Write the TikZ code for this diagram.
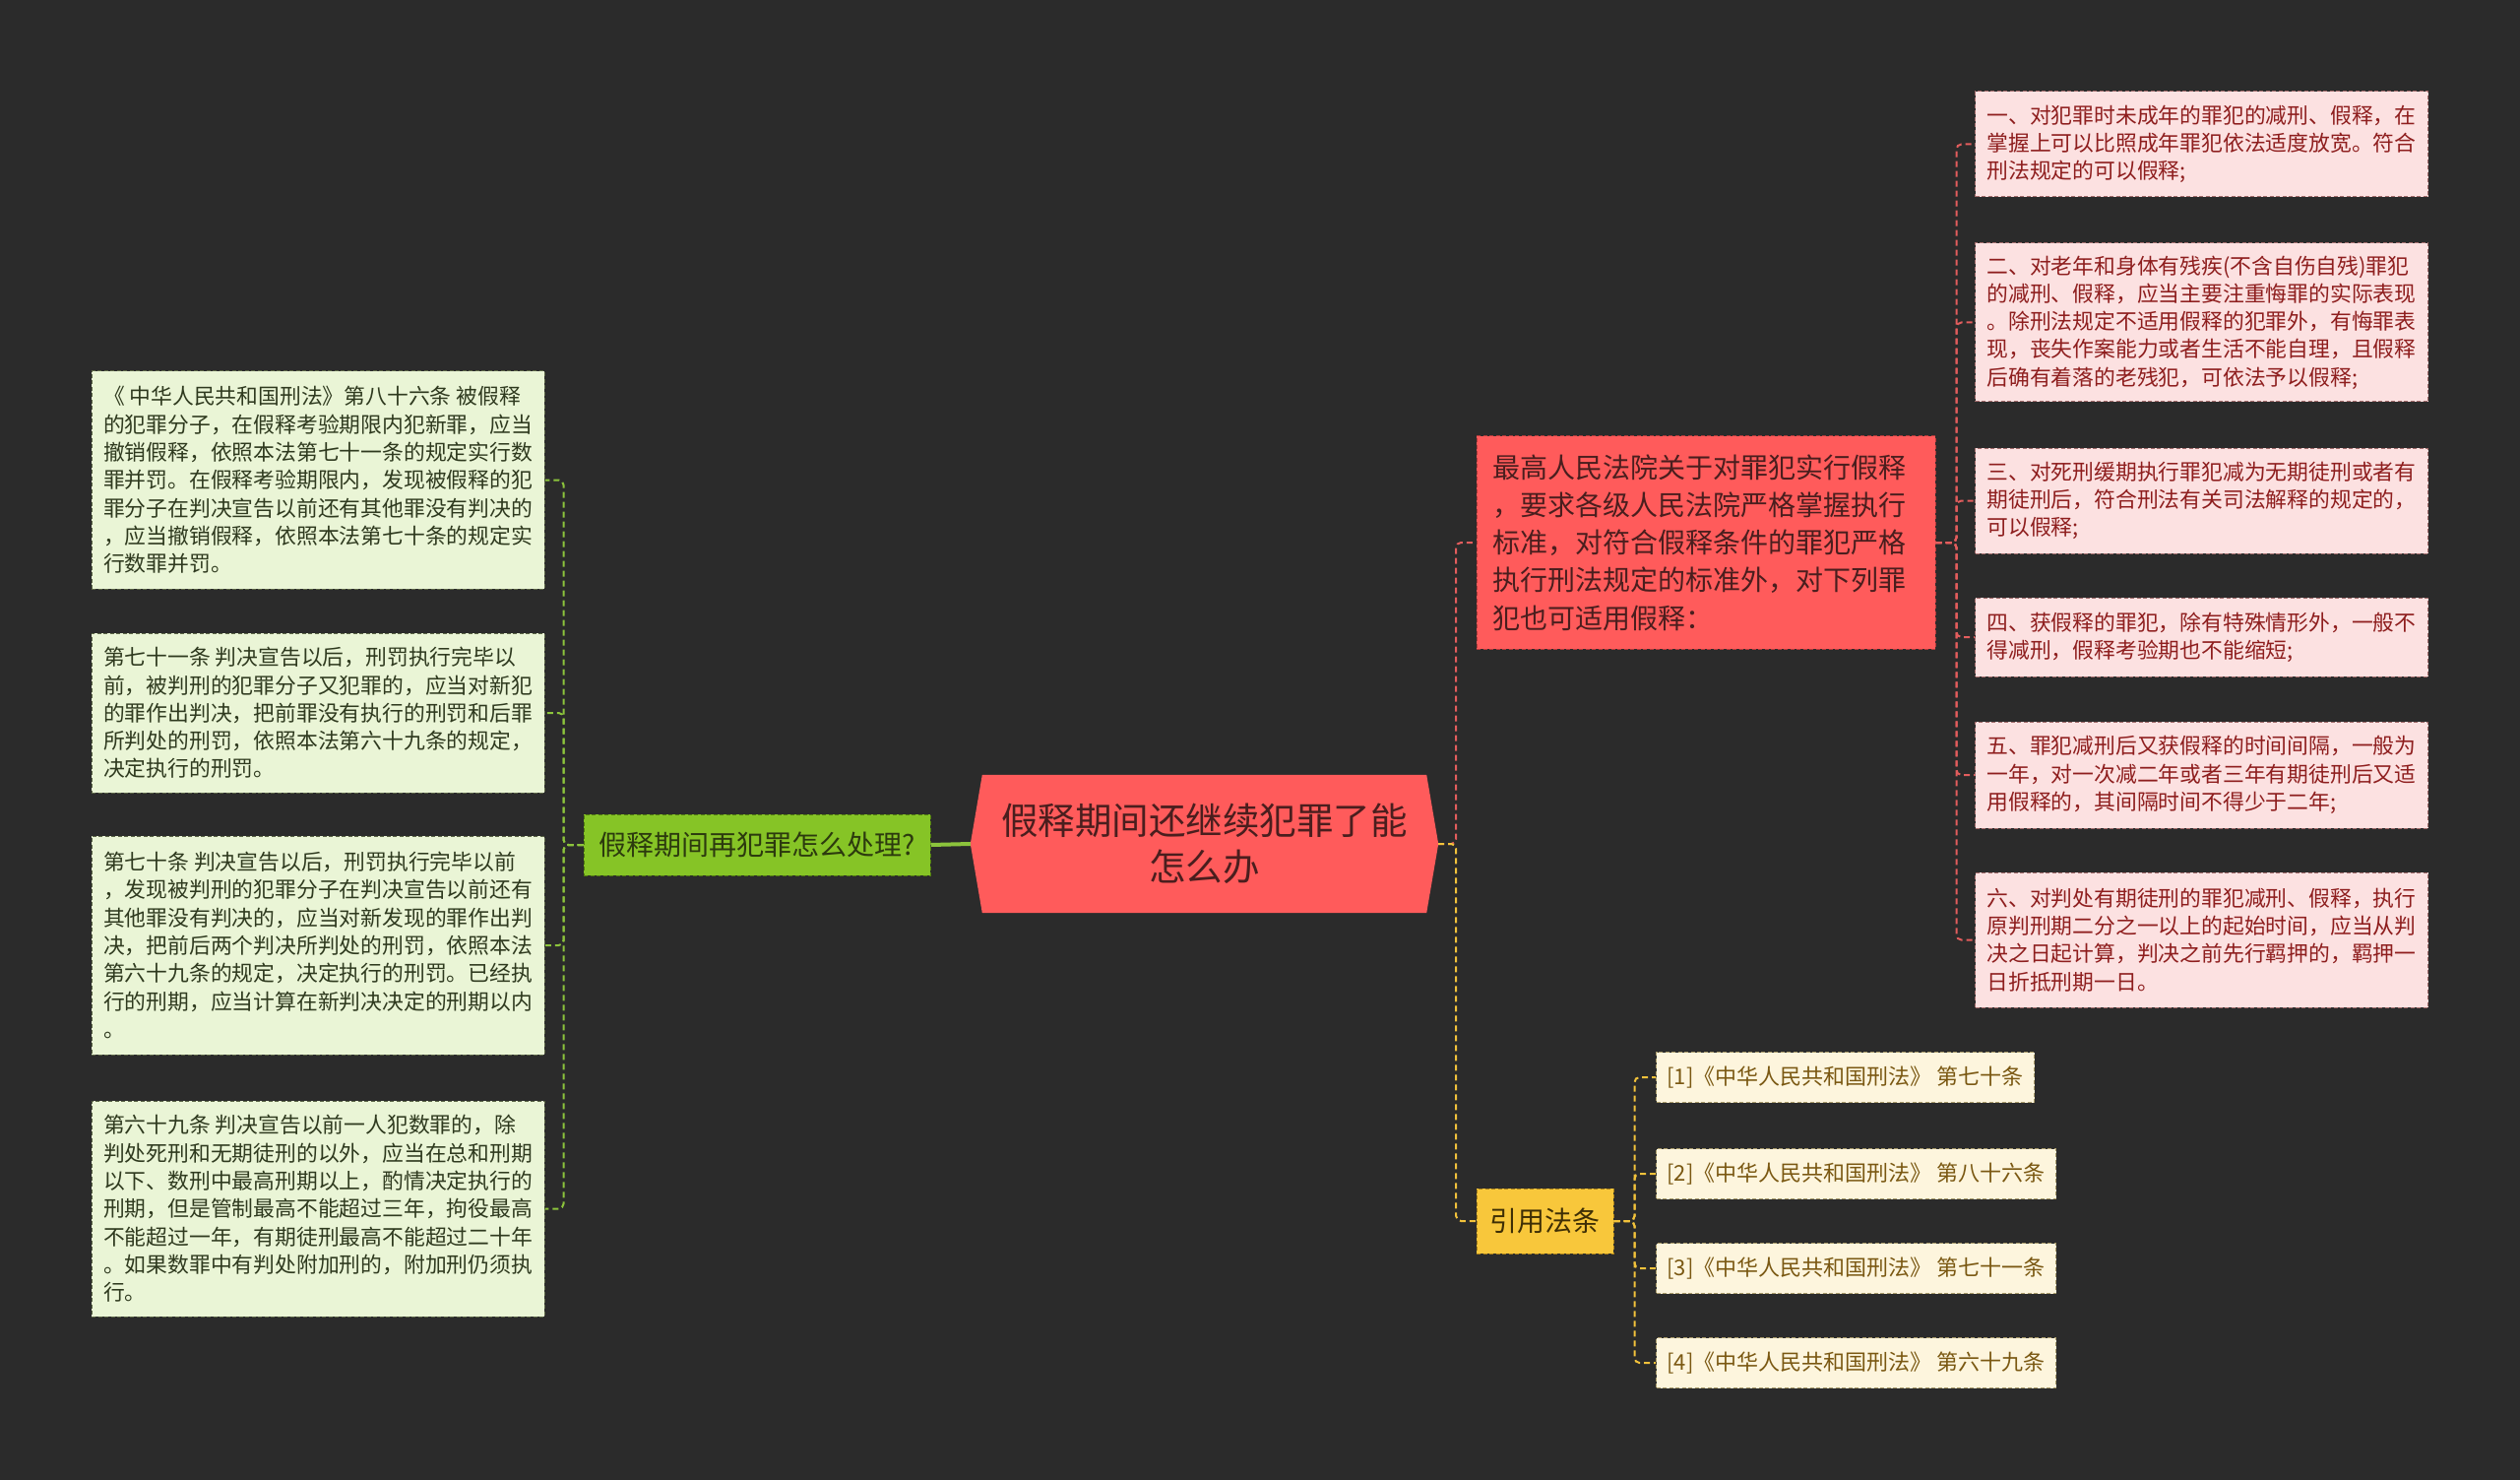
\documentclass[tikz,border=0pt]{standalone}
\usepackage{fontspec}
\newfontfamily\cjk{Noto Sans CJK SC}
\usetikzlibrary{backgrounds}
\definecolor{bgc}{HTML}{2B2B2B}
\definecolor{lfill}{HTML}{EAF5D6}
\definecolor{lborder}{HTML}{5A6445}
\definecolor{ltext}{HTML}{2F3A1F}
\definecolor{gfill}{HTML}{86C426}
\definecolor{gborder}{HTML}{4F7A10}
\definecolor{gtext}{HTML}{2C3A0E}
\definecolor{ctrfill}{HTML}{FF5B5B}
\definecolor{ctrtext}{HTML}{4A1E1E}
\definecolor{rfill}{HTML}{FF5B5B}
\definecolor{rborder}{HTML}{B03A3A}
\definecolor{rtext}{HTML}{4A1E1E}
\definecolor{pfill}{HTML}{FCE1E1}
\definecolor{pborder}{HTML}{A06A6A}
\definecolor{ptext}{HTML}{8E1E1E}
\definecolor{yfill}{HTML}{F8C73B}
\definecolor{yborder}{HTML}{A8801A}
\definecolor{ytext}{HTML}{3F2F05}
\definecolor{citefill}{HTML}{FDF5DD}
\definecolor{citeborder}{HTML}{A89A6A}
\definecolor{citetext}{HTML}{7A5812}
\definecolor{glc}{HTML}{8CC43C}
\definecolor{rlc}{HTML}{E35D5D}
\definecolor{ylc}{HTML}{F2C23B}
\begin{document}
\begin{tikzpicture}[x=1pt,y=-1pt,
  boxbase/.style={rectangle, dash pattern=on 4pt off 2.5pt, line width=1pt, align=left, inner xsep=12pt, inner ysep=6pt},
  lbox/.style={boxbase, fill=lfill, draw=lborder, text=ltext, minimum width=460pt, font=\cjk\fontsize{21.8}{28.3}\selectfont},
  pbox/.style={boxbase, fill=pfill, draw=pborder, text=ptext, minimum width=459pt, font=\cjk\fontsize{21.8}{28.3}\selectfont},
  citebox/.style={boxbase, fill=citefill, draw=citeborder, text=citetext, anchor=west, minimum height=51pt, inner xsep=11pt, font=\cjk\fontsize{22}{26}\selectfont},
  gnode/.style={boxbase, fill=gfill, draw=gborder, text=gtext, minimum width=352pt, minimum height=62pt, inner xsep=4pt, font=\cjk\fontsize{28}{34}\selectfont},
  rnode/.style={boxbase, fill=rfill, draw=rborder, text=rtext, text width=434pt, inner xsep=16pt, minimum height=216pt, font=\cjk\fontsize{28}{38.3}\selectfont},
  ynode/.style={boxbase, fill=yfill, draw=yborder, text=ytext, minimum width=139pt, minimum height=66pt, inner xsep=4pt, font=\cjk\fontsize{28}{34}\selectfont},
  cnode/.style={rectangle, minimum width=475pt, minimum height=140pt, align=center, text=ctrtext, inner sep=0pt, font=\cjk\fontsize{37.5}{47}\selectfont},
  gline/.style={draw=glc, line width=2pt, dash pattern=on 6pt off 4pt, rounded corners=5pt},
  rline/.style={draw=rlc, line width=2pt, dash pattern=on 6pt off 4pt, rounded corners=5pt},
  yline/.style={draw=ylc, line width=2pt, dash pattern=on 6pt off 4pt, rounded corners=5pt}
]
\useasboundingbox (0,0) rectangle (2560,1503);

% centre
\node[cnode] (c) at (1223.5,857) {假释期间还继续犯罪了能\\怎么办};

% left branch
\node[gnode] (g) at (769,858) {假释期间再犯罪怎么处理?};
\node[lbox, minimum height=221pt] (l1) at (323,487.5) {《 中华人民共和国刑法》第八十六条 被假释\\的犯罪分子，在假释考验期限内犯新罪，应当\\撤销假释，依照本法第七十一条的规定实行数\\罪并罚。在假释考验期限内，发现被假释的犯\\罪分子在判决宣告以前还有其他罪没有判决的\\，应当撤销假释，依照本法第七十条的规定实\\行数罪并罚。};
\node[lbox, minimum height=162pt] (l2) at (323,724) {第七十一条 判决宣告以后，刑罚执行完毕以\\前，被判刑的犯罪分子又犯罪的，应当对新犯\\的罪作出判决，把前罪没有执行的刑罚和后罪\\所判处的刑罚，依照本法第六十九条的规定，\\决定执行的刑罚。};
\node[lbox, minimum height=222pt] (l3) at (323,960) {第七十条 判决宣告以后，刑罚执行完毕以前\\，发现被判刑的犯罪分子在判决宣告以前还有\\其他罪没有判决的，应当对新发现的罪作出判\\决，把前后两个判决所判处的刑罚，依照本法\\第六十九条的规定，决定执行的刑罚。已经执\\行的刑期，应当计算在新判决决定的刑期以内\\。};
\node[lbox, minimum height=219pt] (l4) at (323,1227.5) {第六十九条 判决宣告以前一人犯数罪的，除\\判处死刑和无期徒刑的以外，应当在总和刑期\\以下、数刑中最高刑期以上，酌情决定执行的\\刑期，但是管制最高不能超过三年，拘役最高\\不能超过一年，有期徒刑最高不能超过二十年\\。如果数罪中有判处附加刑的，附加刑仍须执\\行。};

% right upper branch
\node[rnode] (r) at (1733,551) {最高人民法院关于对罪犯实行假释\\，要求各级人民法院严格掌握执行\\标准，对符合假释条件的罪犯严格\\执行刑法规定的标准外，对下列罪\\犯也可适用假释：};
\node[pbox, minimum height=107pt] (p1) at (2236.5,146.5) {一、对犯罪时未成年的罪犯的减刑、假释，在\\掌握上可以比照成年罪犯依法适度放宽。符合\\刑法规定的可以假释;};
\node[pbox, minimum height=161pt] (p2) at (2236.5,327.5) {二、对老年和身体有残疾(不含自伤自残)罪犯\\的减刑、假释，应当主要注重悔罪的实际表现\\。除刑法规定不适用假释的犯罪外，有悔罪表\\现，丧失作案能力或者生活不能自理，且假释\\后确有着落的老残犯，可依法予以假释;};
\node[pbox, minimum height=107pt] (p3) at (2236.5,508.5) {三、对死刑缓期执行罪犯减为无期徒刑或者有\\期徒刑后，符合刑法有关司法解释的规定的，\\可以假释;};
\node[pbox, minimum height=80pt] (p4) at (2236.5,647) {四、获假释的罪犯，除有特殊情形外，一般不\\得减刑，假释考验期也不能缩短;};
\node[pbox, minimum height=108pt] (p5) at (2236.5,787) {五、罪犯减刑后又获假释的时间间隔，一般为\\一年，对一次减二年或者三年有期徒刑后又适\\用假释的，其间隔时间不得少于二年;};
\node[pbox, minimum height=137pt] (p6) at (2236.5,954.5) {六、对判处有期徒刑的罪犯减刑、假释，执行\\原判刑期二分之一以上的起始时间，应当从判\\决之日起计算，判决之前先行羁押的，羁押一\\日折抵刑期一日。};

% right lower branch
\node[ynode] (yl) at (1569.5,1240) {引用法条};
\node[citebox] (c1) at (1682,1094) {[1]《中华人民共和国刑法》 第七十条};
\node[citebox] (c2) at (1682,1192) {[2]《中华人民共和国刑法》 第八十六条};
\node[citebox] (c3) at (1682,1288) {[3]《中华人民共和国刑法》 第七十一条};
\node[citebox] (c4) at (1682,1384) {[4]《中华人民共和国刑法》 第六十九条};

\begin{scope}[on background layer]
  \fill[bgc] (0,0) rectangle (2560,1503);
  \fill[ctrfill] ([xshift=12pt]c.north west) -- ([xshift=-12pt]c.north east) -- (c.east)
    -- ([xshift=-12pt]c.south east) -- ([xshift=12pt]c.south west) -- (c.west) -- cycle;
\end{scope}

% connectors
\draw[draw=glc, line width=4pt] (g.east) -- (c.west);
\foreach \t in {l1,l2,l3,l4} \draw[gline] (g.west) -- ++(-20pt,0) |- (\t.east);
\draw[rline] (c.east) -- ++(18pt,0) |- (r.west);
\draw[yline] (c.east) -- ++(18pt,0) |- (yl.west);
\foreach \t in {p1,p2,p3,p4,p5,p6} \draw[rline] (r.east) -- ++(21pt,0) |- (\t.west);
\foreach \t in {c1,c2,c3,c4} \draw[yline] (yl.east) -- ++(21pt,0) |- (\t.west);
\end{tikzpicture}
\end{document}
